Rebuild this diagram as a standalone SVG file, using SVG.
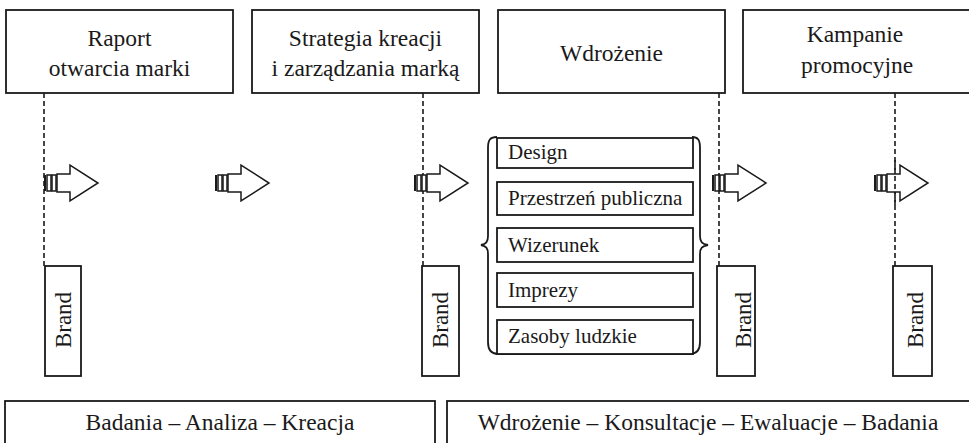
<svg xmlns="http://www.w3.org/2000/svg" xmlns:xlink="http://www.w3.org/1999/xlink" width="969" height="443" viewBox="0 0 969 443">
<style>
.box{fill:#fff;stroke:#1a1a1a;stroke-width:1.8}
.t{font-family:"Liberation Serif","Times New Roman",serif;fill:#1a1a1a}
.big{font-size:23.5px;text-anchor:middle}
.item{font-size:21px}
.brand{font-size:23px;text-anchor:middle}
.dash{stroke:#1a1a1a;stroke-width:1.6;stroke-dasharray:5 3;fill:none}
.ar{fill:#fff;stroke:#1a1a1a;stroke-width:1.5}
.brace{fill:none;stroke:#1a1a1a;stroke-width:1.8}
</style>
<defs>
<g id="arr">
<rect x="44" y="175" width="2" height="16" fill="#1a1a1a"/>
<rect class="ar" x="47" y="175" width="4" height="16"/>
<rect class="ar" x="52" y="175" width="4" height="16"/>
<polygon class="ar" points="57,174 70,174 70,165 98,183 70,201 70,192 57,192"/>
</g>
</defs>
<rect width="969" height="443" fill="#fff"/>

<g id="connectors">
<line class="dash" x1="44" y1="93" x2="44" y2="266"/>
<line class="dash" x1="423" y1="93" x2="423" y2="266"/>
<line class="dash" x1="719" y1="93" x2="719" y2="266"/>
<line class="dash" x1="895" y1="93" x2="895" y2="266"/>
<use xlink:href="#arr"/>
<use xlink:href="#arr" transform="translate(171,0)"/>
<use xlink:href="#arr" transform="translate(370,0)"/>
<use xlink:href="#arr" transform="translate(668,0)"/>
<use xlink:href="#arr" transform="translate(830,0)"/>
<line class="dash" x1="895" y1="160" x2="895" y2="206"/>
</g>

<g id="raport">
<rect class="box" x="6" y="10" width="227" height="83"/>
<text class="t big" x="119.5" y="46">Raport</text>
<text class="t big" x="119.5" y="76">otwarcia marki</text>
</g>
<g id="strategia">
<rect class="box" x="252" y="10" width="227" height="83"/>
<text class="t big" x="365.5" y="46">Strategia kreacji</text>
<text class="t big" x="365.5" y="76">i zarządzania marką</text>
</g>
<g id="wdrozenie">
<rect class="box" x="498" y="10" width="227" height="83"/>
<text class="t big" x="611.5" y="61">Wdrożenie</text>
</g>
<g id="kampanie">
<rect class="box" x="743" y="10" width="230" height="83"/>
<text class="t big" x="855" y="42">Kampanie</text>
<text class="t big" x="857" y="73">promocyjne</text>
</g>

<g id="brand1">
<rect class="box" x="45" y="266" width="36" height="110"/>
<text class="t brand" transform="translate(70.5,320) rotate(-90)">Brand</text>
</g>
<g id="brand2">
<rect class="box" x="422" y="266" width="37" height="110"/>
<text class="t brand" transform="translate(448,320) rotate(-90)">Brand</text>
</g>
<g id="brand3">
<rect class="box" x="717" y="266" width="38" height="110"/>
<text class="t brand" transform="translate(751,320) rotate(-90)">Brand</text>
</g>
<g id="brand4">
<rect class="box" x="893" y="266" width="39" height="110"/>
<text class="t brand" transform="translate(923,320) rotate(-90)">Brand</text>
</g>

<g id="lista">
<path class="brace" d="M497,137 C490,137 488,140 488,148 L488,236 C488,242 486,244 481,245 C486,246 488,248 488,254 L488,342 C488,350 491,354 498,354 L690,354"/>
<path class="brace" d="M692,137 C698,137 700,140 700,148 L700,236 C700,242 702,244 708,245 C702,246 700,248 700,254 L700,342 C700,350 697,354 690,354"/>
<g id="design">
<rect class="box" x="497" y="138" width="196" height="30"/>
<text class="t item" x="508" y="159">Design</text>
</g>
<g id="przestrzen">
<rect class="box" x="497" y="182" width="196" height="33"/>
<text class="t item" x="508" y="205">Przestrzeń publiczna</text>
</g>
<g id="wizerunek">
<rect class="box" x="497" y="228" width="196" height="34"/>
<text class="t item" x="508" y="252">Wizerunek</text>
</g>
<g id="imprezy">
<rect class="box" x="497" y="273" width="196" height="34"/>
<text class="t item" x="508" y="297">Imprezy</text>
</g>
<g id="zasoby">
<rect class="box" x="497" y="320" width="196" height="34"/>
<text class="t item" x="508" y="343">Zasoby ludzkie</text>
</g>
</g>

<g id="badania">
<rect class="box" x="5" y="401" width="430" height="50"/>
<text class="t big" x="220" y="430">Badania – Analiza – Kreacja</text>
</g>
<g id="wdrozenie-konsultacje">
<rect class="box" x="447" y="401" width="530" height="50"/>
<text class="t big" x="708" y="430">Wdrożenie – Konsultacje – Ewaluacje – Badania</text>
</g>
</svg>
